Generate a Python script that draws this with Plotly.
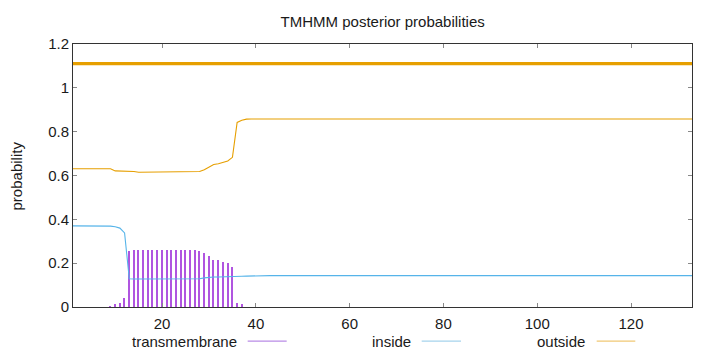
import plotly.graph_objects as go

# ---------------- data ----------------
residues = list(range(1, 134))

transmembrane = [
    0, 0, 0, 0, 0, 0, 0, 0, 0.004, 0.012,
    0.018, 0.040, 0.256, 0.258, 0.262, 0.262, 0.262, 0.262, 0.262, 0.262,
    0.262, 0.262, 0.262, 0.262, 0.262, 0.262, 0.262, 0.254, 0.248, 0.231,
    0.216, 0.213, 0.205, 0.200, 0.183, 0.020, 0.012, 0, 0, 0,
    0, 0, 0, 0, 0, 0, 0, 0, 0, 0,
    0, 0, 0, 0, 0, 0, 0, 0, 0, 0,
    0, 0, 0, 0, 0, 0, 0, 0, 0, 0,
    0, 0, 0, 0, 0, 0, 0, 0, 0, 0,
    0, 0, 0, 0, 0, 0, 0, 0, 0, 0,
    0, 0, 0, 0, 0, 0, 0, 0, 0, 0,
    0, 0, 0, 0, 0, 0, 0, 0, 0, 0,
    0, 0, 0, 0, 0, 0, 0, 0, 0, 0,
    0, 0, 0, 0, 0, 0, 0, 0, 0, 0,
    0, 0, 0,
]

inside = [
    0.370, 0.370, 0.370, 0.370, 0.370, 0.370, 0.370, 0.370, 0.369, 0.366,
    0.360, 0.338, 0.129, 0.128, 0.128, 0.128, 0.128, 0.128, 0.128, 0.128,
    0.128, 0.128, 0.128, 0.128, 0.128, 0.128, 0.128, 0.129, 0.133, 0.136,
    0.137, 0.137, 0.137, 0.137, 0.138, 0.139, 0.140, 0.141, 0.142, 0.143,
    0.143, 0.143, 0.143, 0.143, 0.143, 0.143, 0.143, 0.143, 0.143, 0.143,
    0.143, 0.143, 0.143, 0.143, 0.143, 0.143, 0.143, 0.143, 0.143, 0.143,
    0.143, 0.143, 0.143, 0.143, 0.143, 0.143, 0.143, 0.143, 0.143, 0.143,
    0.143, 0.143, 0.143, 0.143, 0.143, 0.143, 0.143, 0.143, 0.143, 0.143,
    0.143, 0.143, 0.143, 0.143, 0.143, 0.143, 0.143, 0.143, 0.143, 0.143,
    0.143, 0.143, 0.143, 0.143, 0.143, 0.143, 0.143, 0.143, 0.143, 0.143,
    0.143, 0.143, 0.143, 0.143, 0.143, 0.143, 0.143, 0.143, 0.143, 0.143,
    0.143, 0.143, 0.143, 0.143, 0.143, 0.143, 0.143, 0.143, 0.143, 0.143,
    0.143, 0.143, 0.143, 0.143, 0.143, 0.143, 0.143, 0.143, 0.143, 0.143,
    0.143, 0.143, 0.143,
]

outside = [
    0.631, 0.631, 0.631, 0.631, 0.631, 0.631, 0.631, 0.631, 0.631, 0.621,
    0.621, 0.621, 0.621, 0.618, 0.615, 0.615, 0.615, 0.615, 0.615, 0.615,
    0.615, 0.615, 0.615, 0.615, 0.615, 0.615, 0.615, 0.618, 0.626, 0.638,
    0.650, 0.654, 0.659, 0.666, 0.683, 0.842, 0.852, 0.857, 0.858, 0.858,
    0.858, 0.858, 0.858, 0.858, 0.858, 0.858, 0.858, 0.858, 0.858, 0.858,
    0.858, 0.858, 0.858, 0.858, 0.858, 0.858, 0.858, 0.858, 0.858, 0.858,
    0.858, 0.858, 0.858, 0.858, 0.858, 0.858, 0.858, 0.858, 0.858, 0.858,
    0.858, 0.858, 0.858, 0.858, 0.858, 0.858, 0.858, 0.858, 0.858, 0.858,
    0.858, 0.858, 0.858, 0.858, 0.858, 0.858, 0.858, 0.858, 0.858, 0.858,
    0.858, 0.858, 0.858, 0.858, 0.858, 0.858, 0.858, 0.858, 0.858, 0.858,
    0.858, 0.858, 0.858, 0.858, 0.858, 0.858, 0.858, 0.858, 0.858, 0.858,
    0.858, 0.858, 0.858, 0.858, 0.858, 0.858, 0.858, 0.858, 0.858, 0.858,
    0.858, 0.858, 0.858, 0.858, 0.858, 0.858, 0.858, 0.858, 0.858, 0.858,
    0.858, 0.858, 0.858,
]

# predicted topology (whole sequence outside), drawn as a thick bar
topology_x = [1, 133]
topology_y = [1.11, 1.11]

series_names = ["transmembrane", "inside", "outside"]
x_ticks = [20, 40, 60, 80, 100, 120]
y_ticks = [0, 0.2, 0.4, 0.6, 0.8, 1, 1.2]
title_text = "TMHMM posterior probabilities"
y_title = "probability"

# ---------------- style ----------------
FONT = "Liberation Sans, Arial, sans-serif"
TXT = "#1a1a1a"
col_tm = "#b055e0"
col_in = "#56b4e9"
col_out = "#e69f00"
legend_colors = ["#b98be6", "#a6d3ec", "#f0c874"]

fig = go.Figure()

fig.add_trace(go.Bar(
    x=residues, y=transmembrane, width=0.32,
    marker=dict(color=col_tm, line=dict(width=0)),
    name=series_names[0], showlegend=False,
))
fig.add_trace(go.Scatter(
    x=residues, y=inside, mode="lines",
    line=dict(color=col_in, width=1.1),
    name=series_names[1], showlegend=False,
))
fig.add_trace(go.Scatter(
    x=residues, y=outside, mode="lines",
    line=dict(color=col_out, width=1.1),
    name=series_names[2], showlegend=False,
))
fig.add_trace(go.Scatter(
    x=topology_x, y=topology_y, mode="lines",
    line=dict(color=col_out, width=3.2),
    showlegend=False, hoverinfo="skip",
))

# legend drawn gnuplot-style: text, then a line sample to the right
legend_text_right = [0.268, 0.5488, 0.830]
legend_line_span = [(0.2822, 0.3452), (0.5633, 0.6268), (0.846, 0.9084)]
legend_y = -0.1295
annotations = []
shapes = []
for name, xr, (x0, x1), c in zip(series_names, legend_text_right, legend_line_span, legend_colors):
    annotations.append(dict(
        x=xr, y=legend_y, xref="paper", yref="paper", text=name,
        showarrow=False, xanchor="right", yanchor="middle",
        font=dict(family=FONT, size=15, color=TXT),
    ))
    shapes.append(dict(
        type="line", xref="paper", yref="paper", x0=x0, x1=x1,
        y0=legend_y, y1=legend_y, line=dict(color=c, width=1.2),
    ))

annotations.append(dict(
    x=-0.0905, y=0.5, xref="paper", yref="paper", text=y_title,
    showarrow=False, textangle=-90, xanchor="center", yanchor="middle",
    font=dict(family=FONT, size=15, color=TXT),
))

fig.update_layout(
    width=720, height=352,
    margin=dict(l=73, r=28, t=44, b=45),
    paper_bgcolor="white", plot_bgcolor="white",
    bargap=0,
    title=dict(text=title_text, x=0.5315, xanchor="center", y=0.937, yanchor="middle",
               font=dict(family=FONT, size=15, color=TXT)),
    font=dict(family=FONT, size=15, color=TXT),
    annotations=annotations, shapes=shapes,
    showlegend=False,
)

fig.update_xaxes(
    range=[1, 133], tickvals=x_ticks, ticktext=[str(v) for v in x_ticks],
    ticks="inside", ticklen=4, tickcolor="#888888", tickwidth=1,
    showline=True, linecolor="#333333", linewidth=1, mirror="ticks",
    showgrid=False, zeroline=False, ticklabelstandoff=3,
    tickfont=dict(family=FONT, size=15, color=TXT),
)
fig.update_yaxes(
    range=[0, 1.2], tickvals=y_ticks, ticktext=[("%g" % v) for v in y_ticks],
    ticks="inside", ticklen=4, tickcolor="#888888", tickwidth=1,
    showline=True, linecolor="#333333", linewidth=1, mirror="ticks",
    showgrid=False, zeroline=False,
    tickfont=dict(family=FONT, size=15, color=TXT),
)

fig.write_html("out.html")
